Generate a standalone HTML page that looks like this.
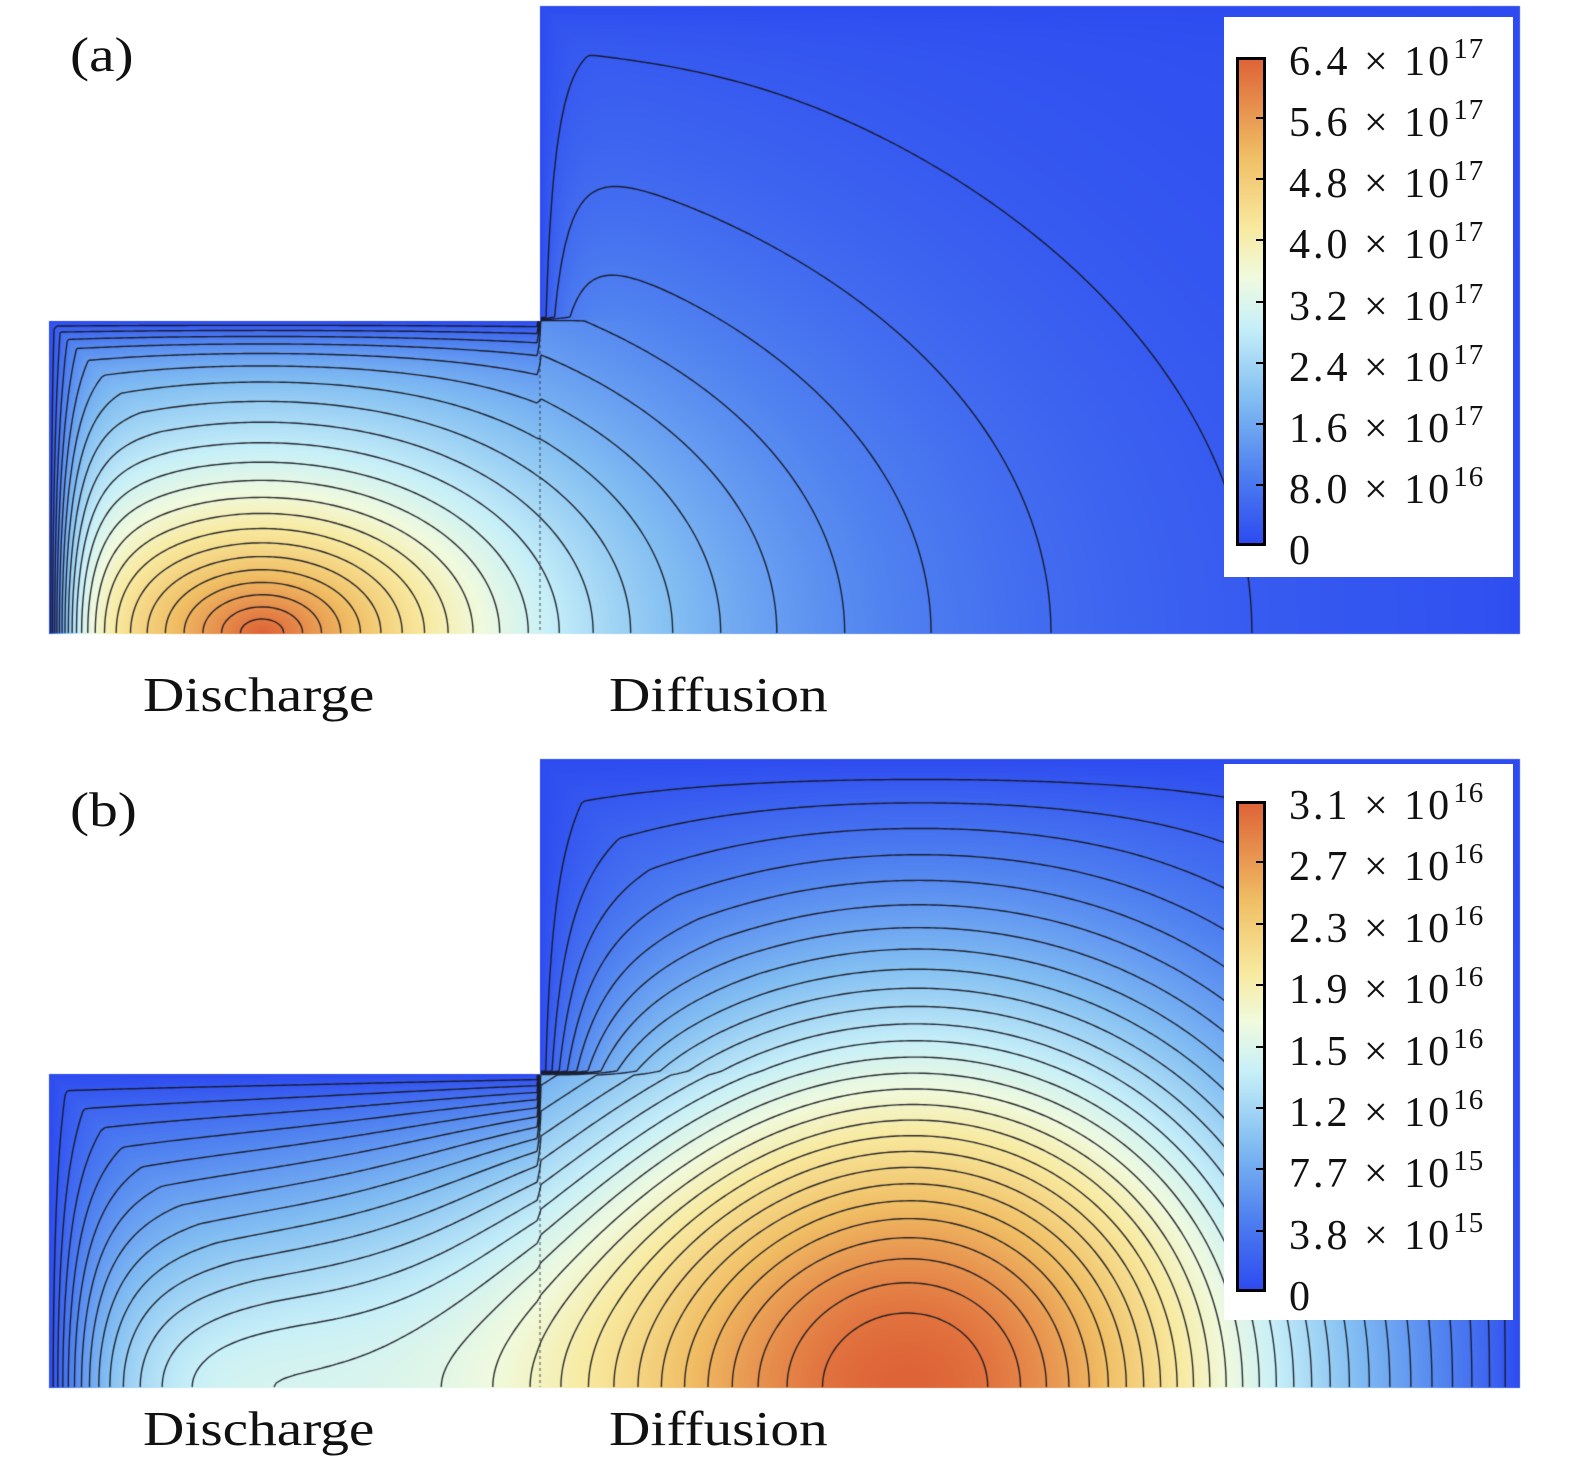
<!DOCTYPE html>
<html><head><meta charset="utf-8">
<style>
body{margin:0;background:#fff;width:1575px;height:1467px;overflow:hidden;position:relative;font-family:"Liberation Serif","DejaVu Serif",serif;}
#cv{position:absolute;left:0;top:0}
.t{position:absolute;font-size:49px;color:#111;white-space:nowrap;line-height:1;transform:scaleX(1.17);transform-origin:left top}
.leg{position:absolute;background:#fff;}
.cb{position:absolute;border:3px solid #000;box-sizing:border-box}
.tick{position:absolute;height:2px;background:#000;width:10px}
.lab{position:absolute;font-size:42px;line-height:1;white-space:nowrap;color:#111;letter-spacing:3px}
.lab sup{font-size:29px;vertical-align:0;position:relative;top:-17px;margin-left:1px;letter-spacing:1px}
</style></head><body>
<canvas id="cv" width="1575" height="1467"></canvas>
<div class="t" style="left:70px;top:30px">(a)</div>
<div class="t" style="left:70px;top:785px">(b)</div>
<div class="t" style="left:143px;top:670px">Discharge</div>
<div class="t" style="left:609px;top:670px">Diffusion</div>
<div class="t" style="left:143px;top:1404px">Discharge</div>
<div class="t" style="left:609px;top:1404px">Diffusion</div>
<div id="legA" class="leg" style="left:1224px;top:17px;width:289px;height:560px"></div>
<div id="legB" class="leg" style="left:1224px;top:764px;width:289px;height:556px"></div>
<script>
const ticksA=["0","8.0 × 10|16","1.6 × 10|17","2.4 × 10|17","3.2 × 10|17","4.0 × 10|17","4.8 × 10|17","5.6 × 10|17","6.4 × 10|17"];
const ticksB=["0","3.8 × 10|15","7.7 × 10|15","1.2 × 10|16","1.5 × 10|16","1.9 × 10|16","2.3 × 10|16","2.7 × 10|16","3.1 × 10|16"];
const stopPos=[0,0.15,0.3,0.45,0.55,0.65,0.8,1];
const stopCol=[[45,75,240],[80,130,240],[130,190,242],[200,240,248],[240,250,222],[248,234,160],[240,190,100],[222,100,55]];
// field sources: x, y, amplitude, width x, width y, exponent
const srcAX=[262],srcAY=[633],srcAA=[1],srcASX=[350],srcASY=[225],srcAP=[0.55];
const srcBX=[925,220],srcBY=[1387,1387],srcBA=[1,0.45],srcBSX=[400,400],srcBSY=[390,240],srcBP=[1.0,0.8];
const levelsA=22, levelsB=28;
const panels=[
 {x0:49,x1:1519,xs:540,ytop:6,ystep:321,ybot:633,sx:srcAX,sy:srcAY,sa:srcAA,swx:srcASX,swy:srcASY,sp:srcAP,wall:22,lev:levelsA},
 {x0:49,x1:1519,xs:540,ytop:759,ystep:1074,ybot:1387,sx:srcBX,sy:srcBY,sa:srcBA,swx:srcBSX,swy:srcBSY,sp:srcBP,wall:40,lev:levelsB}
];
function inside(p,x,y){return x>=p.x0&&x<=p.x1&&y<=p.ybot&&y>=(x<p.xs?p.ystep:p.ytop);}
function raw(p,x,y){let v=0;for(let i=0;i<p.sx.length;i++){const dx=(x-p.sx[i])/p.swx[i],dy=(y-p.sy[i])/p.swy[i];v+=p.sa[i]*Math.exp(-Math.pow(dx*dx+dy*dy,p.sp[i]));}
 let d=Math.min(x-p.x0,p.x1-x,y-(x<p.xs?p.ystep:p.ytop));if(x>=p.xs&&y<p.ystep)d=Math.min(d,x-p.xs);
 return v*(1-Math.exp(-Math.max(d,0)/p.wall));}
panels.forEach(p=>{let m=0;for(let i=0;i<p.sx.length;i++)m=Math.max(m,raw(p,p.sx[i],p.sy[i]-1));p.max=m;});
function val(p,x,y){return Math.min(1,raw(p,x,y)/p.max);}
function cmap(v){for(let i=1;i<stopPos.length;i++){if(v<=stopPos[i]){const t=(v-stopPos[i-1])/(stopPos[i]-stopPos[i-1]);const a=stopCol[i-1],b=stopCol[i];return [a[0]+(b[0]-a[0])*t,a[1]+(b[1]-a[1])*t,a[2]+(b[2]-a[2])*t];}}return stopCol[stopCol.length-1];}
const cv=document.getElementById('cv'),ctx=cv.getContext('2d');
ctx.fillStyle='#fff';ctx.fillRect(0,0,1575,1467);
const img=ctx.getImageData(0,0,1575,1467);
panels.forEach(p=>{for(let y=p.ytop;y<=p.ybot;y++)for(let x=p.x0;x<=p.x1;x++){if(!inside(p,x,y))continue;const c=cmap(val(p,x,y));const k=(y*1575+x)*4;img.data[k]=c[0];img.data[k+1]=c[1];img.data[k+2]=c[2];img.data[k+3]=255;}});
ctx.putImageData(img,0,0);
ctx.strokeStyle='rgba(20,20,30,0.9)';ctx.lineWidth=1.4;
panels.forEach(p=>{const s=4;const nx=Math.floor((p.x1-p.x0)/s),ny=Math.floor((p.ybot-p.ytop)/s);
 const g=[];for(let j=0;j<=ny;j++){g[j]=[];for(let i=0;i<=nx;i++){const x=p.x0+i*s,y=p.ybot-j*s;g[j][i]=inside(p,x,y)?val(p,x,y):null;}}
 ctx.beginPath();
 for(let L=1;L<=p.lev;L++){const lv=L/(p.lev+1);
  for(let j=0;j<ny;j++)for(let i=0;i<nx;i++){const a=g[j][i],b=g[j][i+1],c=g[j+1][i+1],d=g[j+1][i];if(a===null||b===null||c===null||d===null)continue;
   const x=p.x0+i*s,y=p.ybot-j*s;const pts=[];
   const e=(v1,v2,x1,y1,x2,y2)=>{if((v1<lv)!==(v2<lv)){const t=(lv-v1)/(v2-v1);pts.push([x1+(x2-x1)*t,y1+(y2-y1)*t]);}};
   e(a,b,x,y,x+s,y);e(b,c,x+s,y,x+s,y-s);e(c,d,x+s,y-s,x,y-s);e(d,a,x,y-s,x,y);
   for(let k=0;k+1<pts.length;k+=2){ctx.moveTo(pts[k][0],pts[k][1]);ctx.lineTo(pts[k+1][0],pts[k+1][1]);}}}
 ctx.stroke();
 ctx.save();ctx.setLineDash([3,3]);ctx.strokeStyle='rgba(40,40,40,0.6)';ctx.beginPath();ctx.moveTo(p.xs,p.ystep);ctx.lineTo(p.xs,p.ybot);ctx.stroke();ctx.restore();
});
function legend(id,ticks,top,bot,name){const L=document.getElementById(id);const box=L.getBoundingClientRect();const ox=box.left,oy=box.top;
 const grad='linear-gradient(to top,'+stopPos.map((s,i)=>'rgb('+stopCol[i].join(',')+') '+(s*100)+'%').join(',')+')';
 const cb=document.createElement('div');cb.className='cb';
 
 
 cb.style.left=(1236-ox)+'px';cb.style.top=(top-oy)+'px';cb.style.width='30px';cb.style.height=(bot-top)+'px';cb.style.background=grad;L.appendChild(cb);
 const n=ticks.length-1;
 ticks.forEach((t,i)=>{const y=bot-(bot-top)*i/n;
  if(i>0&&i<n){const tk=document.createElement('div');tk.className='tick';
   
   
   tk.style.left=(1256-ox)+'px';tk.style.top=(y-1-oy)+'px';L.appendChild(tk);}
  const lb=document.createElement('div');lb.className='lab';
  
  
  const parts=t.split('|');lb.innerHTML=parts[0]+(parts[1]?'<sup>'+parts[1]+'</sup>':'');
  lb.style.left=(1289-ox)+'px';lb.style.top=(y-16-oy+(i===n?0:0))+'px';L.appendChild(lb);});}
legend('legA',ticksA,57,546,'legend-a');
legend('legB',ticksB,801,1292,'legend-b');
</script>
</body></html>
